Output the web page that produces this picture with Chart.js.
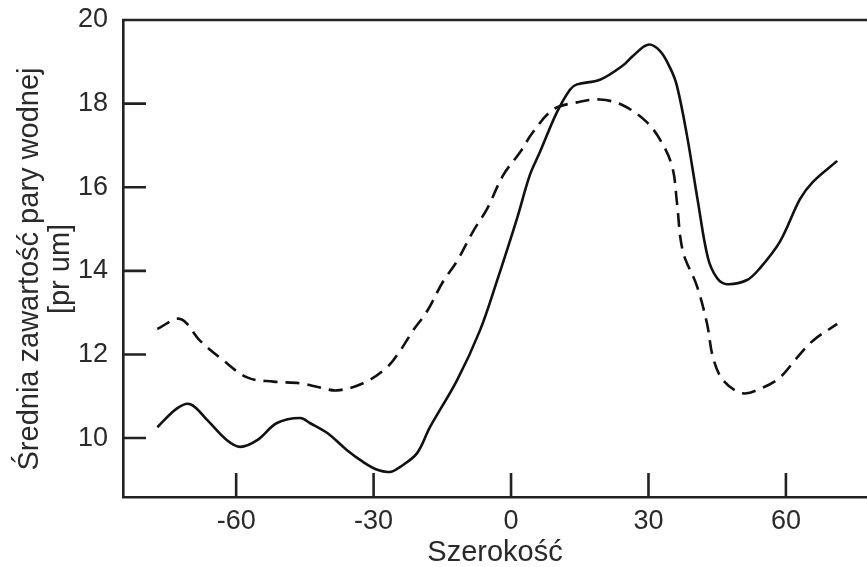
<!DOCTYPE html>
<html>
<head>
<meta charset="utf-8">
<script src="https://cdn.jsdelivr.net/npm/chart.js@4/dist/chart.umd.min.js"></script>
<style>
  html, body { margin: 0; padding: 0; background: #fff; }
  #wrap { width: 867px; height: 567px; }
</style>
</head>
<body>
<div id="wrap"><canvas id="chart" width="867" height="567"></canvas></div>
<script>
// solid curve (latitude, water vapour)
const latSolid = [-77.2, -72.9, -70.0, -66.3, -62.0, -59.1, -55.4, -51.1, -46.0, -43.9, -40.1, -35.8, -32.3, -29.2, -26.4, -24.2, -20.5, -17.7, -11.8, -6.8, -3.1, 1.3, 4.1, 6.3, 10.0, 12.9, 14.4, 19.4, 24.4, 26.6, 29.9, 32.5, 34.7, 36.2, 38.4, 40.8, 43.0, 45.0, 47.1, 51.5, 54.3, 58.7, 63.1, 65.9, 71.2];
const waterSolid = [10.26, 10.71, 10.81, 10.43, 9.95, 9.79, 9.95, 10.36, 10.48, 10.36, 10.12, 9.71, 9.43, 9.24, 9.19, 9.31, 9.64, 10.26, 11.38, 12.57, 13.75, 15.25, 16.29, 16.84, 17.79, 18.34, 18.46, 18.57, 18.91, 19.14, 19.41, 19.26, 18.86, 18.43, 17.24, 15.65, 14.30, 13.82, 13.68, 13.78, 14.06, 14.70, 15.72, 16.13, 16.63];

// dashed curve
const latDashed = [-77.2, -72.2, -67.9, -63.5, -57.6, -51.9, -46.0, -41.7, -38.0, -32.3, -27.1, -24.2, -21.4, -18.3, -14.8, -11.8, -8.3, -5.2, -1.7, 2.0, 4.8, 9.2, 14.4, 19.4, 24.4, 29.7, 33.2, 35.3, 36.2, 37.5, 40.6, 42.8, 44.1, 46.3, 50.6, 55.0, 58.7, 62.4, 65.9, 71.2];
const waterDashed = [12.61, 12.85, 12.33, 11.92, 11.45, 11.35, 11.31, 11.21, 11.14, 11.31, 11.69, 12.09, 12.57, 13.04, 13.75, 14.23, 14.94, 15.49, 16.29, 16.84, 17.32, 17.86, 18.03, 18.10, 17.96, 17.55, 17.01, 16.44, 15.65, 14.47, 13.63, 12.73, 11.92, 11.38, 11.07, 11.21, 11.45, 11.92, 12.33, 12.73];

const xTicks = [-60, -30, 0, 30, 60];
const yTicks = [10, 12, 14, 16, 18, 20];

const xTitle = "Szerokość";
const yTitle = ["Średnia zawartość pary wodnej", "[pr um]"];

const INK = "#222";
const TEXT = "#2a2a2a";
const FONT = "'Liberation Sans', Arial, sans-serif";

function pairs(xs, ys) {
    return xs.map((x, i) => ({ x: x, y: ys[i] }));
}

// frame top line, inward ticks, y title (sits a bit below the axis centre)
const framePlugin = {
    id: "frame",
    afterDraw(chart) {
        const ctx = chart.ctx;
        const area = chart.chartArea;
        const xs = chart.scales.x;
        const ys = chart.scales.y;
        ctx.save();
        ctx.strokeStyle = INK;
        ctx.lineWidth = 2.6;
        ctx.beginPath();
        ctx.moveTo(area.left - 1, area.top);
        ctx.lineTo(area.right, area.top);
        ctx.stroke();

        ctx.beginPath();
        yTicks.forEach(v => {
            if (v >= ys.max) return;
            const py = ys.getPixelForValue(v);
            ctx.moveTo(area.left, py);
            ctx.lineTo(area.left + 23, py);
        });
        xTicks.forEach(v => {
            const px = xs.getPixelForValue(v);
            ctx.moveTo(px, area.bottom);
            ctx.lineTo(px, area.bottom - 24);
        });
        ctx.stroke();

        // y axis title, two lines
        ctx.translate(29.5, 269);
        ctx.rotate(-Math.PI / 2);
        ctx.fillStyle = TEXT;
        ctx.font = "29px " + FONT;
        ctx.textAlign = "center";
        ctx.textBaseline = "middle";
        yTitle.forEach((line, i) => ctx.fillText(line, 0, i * 31));
        ctx.restore();
    }
};

const chart = new Chart(document.getElementById("chart"), {
    type: "line",
    data: {
        datasets: [
            {
                data: pairs(latSolid, waterSolid),
                borderColor: "#111",
                borderWidth: 2.6,
                pointRadius: 0,
                tension: 0.35,
                fill: false
            },
            {
                data: pairs(latDashed, waterDashed),
                borderColor: "#111",
                borderWidth: 2.6,
                borderDash: [14, 8],
                pointRadius: 0,
                tension: 0.35,
                fill: false
            }
        ]
    },
    options: {
        responsive: false,
        animation: false,
        layout: { padding: { top: 20, right: 0, left: 0, bottom: 0 } },
        plugins: {
            legend: { display: false },
            tooltip: { enabled: false }
        },
        scales: {
            x: {
                type: "linear",
                min: -84.7,
                max: 77.7,
                afterBuildTicks: s => { s.ticks = xTicks.map(v => ({ value: v })); },
                afterFit: s => { s.height = 70; s.paddingLeft = 0; s.paddingRight = 0; },
                grid: { display: false, drawTicks: false },
                border: { display: true, color: INK, width: 2.6 },
                ticks: {
                    color: TEXT,
                    padding: 8,
                    maxRotation: 0,
                    font: { family: FONT, size: 27, lineHeight: 1.2 }
                },
                title: {
                    display: true,
                    text: xTitle,
                    color: TEXT,
                    padding: { top: 0, bottom: 0 },
                    font: { family: FONT, size: 29, lineHeight: 1.0 }
                }
            },
            y: {
                type: "linear",
                min: 8.59,
                max: 20,
                afterBuildTicks: s => { s.ticks = yTicks.map(v => ({ value: v })); },
                afterFit: s => { s.width = 123; s.paddingTop = 0; s.paddingBottom = 0; },
                grid: { display: false, drawTicks: false },
                border: { display: true, color: INK, width: 2.6 },
                ticks: {
                    color: TEXT,
                    padding: 15,
                    font: { family: FONT, size: 27, lineHeight: 1.0 }
                },
                title: { display: false }
            }
        }
    },
    plugins: [framePlugin]
});
</script>
</body>
</html>
